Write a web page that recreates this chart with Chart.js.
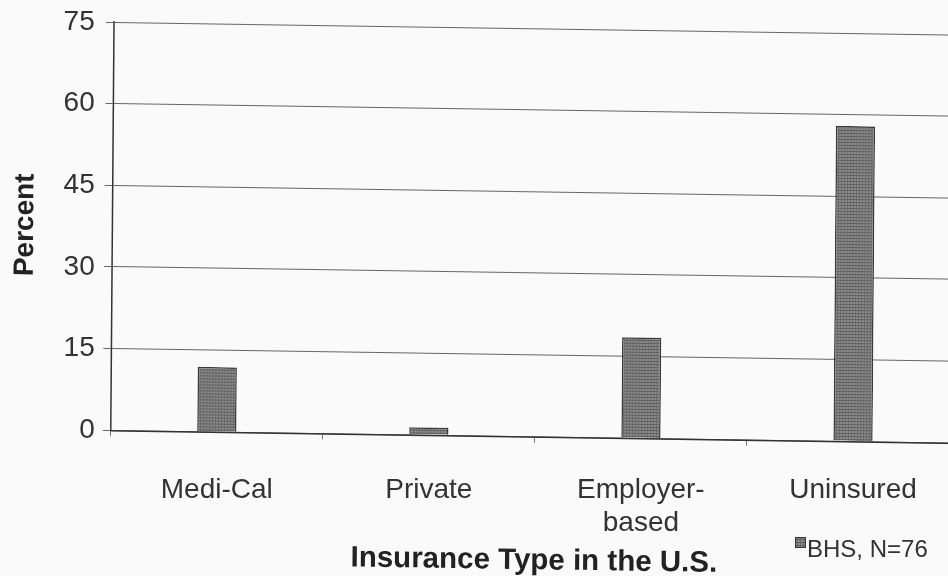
<!DOCTYPE html>
<html>
<head>
<meta charset="utf-8">
<script src="https://cdn.jsdelivr.net/npm/chart.js@4/dist/chart.umd.min.js"></script>
<style>
  html, body { margin: 0; padding: 0; background: #fafafa; overflow: hidden; width: 948px; height: 576px; }
  #wrap { position: absolute; left: 0; top: 0; width: 975px; height: 576px; }
</style>
</head>
<body>
<div id="wrap"><canvas id="c" width="975" height="576"></canvas></div>
<script>
const categories = [["Medi-Cal"], ["Private"], ["Employer-", "based"], ["Uninsured"]];
const seriesLabel = "BHS, N=76";
const seriesValues = [11.9, 1.4, 18.5, 57.9];
const yTicks = [0, 15, 30, 45, 60, 75];
const xTitle = "Insurance Type in the U.S.";
const yTitle = "Percent";

function makePattern() {
  const p = document.createElement('canvas');
  p.width = 3; p.height = 3;
  const g = p.getContext('2d');
  g.fillStyle = '#8c8c8c'; g.fillRect(0, 0, 3, 3);
  g.fillStyle = '#5e5e5e'; g.fillRect(0, 2, 3, 1);
  g.fillStyle = '#6e6e6e'; g.fillRect(2, 0, 1, 2);
  return document.getElementById('c').getContext('2d').createPattern(p, 'repeat');
}
const barFill = makePattern();

// Mimic the slight skew of the scanned page for the plot (grid, axes, bars).
const SKEW_Y = 0.0149, SKEW_X = 0.008;
const skewPlugin = {
  id: 'scanSkew',
  beforeDraw(chart) {
    const ctx = chart.ctx, a = chart.chartArea;
    ctx.save();
    ctx.transform(1, SKEW_Y, -SKEW_X, 1, SKEW_X * a.bottom, -SKEW_Y * a.left);
  },
  afterDatasetsDraw(chart) {
    chart.ctx.restore();
  }
};

const legendPlugin = {
  id: 'cornerLegend',
  afterDraw(chart) {
    const ctx = chart.ctx;
    const ds = chart.data.datasets[0];
    ctx.save();
    ctx.fillStyle = barFill;
    ctx.fillRect(795, 537, 11, 11);
    ctx.strokeStyle = '#333';
    ctx.lineWidth = 1;
    ctx.strokeRect(795.5, 537.5, 10, 10);
    ctx.fillStyle = '#333';
    ctx.font = '24px "Liberation Sans", Arial, sans-serif';
    ctx.textBaseline = 'alphabetic';
    ctx.textAlign = 'left';
    ctx.fillText(ds.label, 807, 557);
    ctx.restore();
  }
};

new Chart(document.getElementById('c'), {
  type: 'bar',
  data: {
    labels: categories,
    datasets: [{
      label: seriesLabel,
      data: seriesValues,
      backgroundColor: barFill,
      borderColor: '#3a3a3a',
      borderWidth: 1.5,
      barPercentage: 0.185,
      categoryPercentage: 1.0
    }]
  },
  options: {
    responsive: false,
    animation: false,
    layout: { padding: { left: 0, right: 16, top: 0, bottom: 0 } },
    plugins: { legend: { display: false }, tooltip: { enabled: false } },
    scales: {
      x: {
        grid: { display: true, drawOnChartArea: false, drawTicks: true, tickLength: 6, color: '#777', offset: true },
        border: { display: true, color: '#333', width: 1.5 },
        ticks: {
          z: 1, color: '#333', padding: 37, maxRotation: 0, autoSkip: false,
          font: { family: '"Liberation Sans", Arial, sans-serif', size: 28, lineHeight: 1.18 }
        },
        title: {
          display: true, text: xTitle, color: '#222',
          font: { family: '"Liberation Sans", Arial, sans-serif', size: 29.5, weight: 'bold' },
          padding: { top: -39.4, bottom: 3.6 }
        }
      },
      y: {
        min: 0, max: 75,
        afterBuildTicks(axis) { axis.ticks = yTicks.map(v => ({ value: v })); },
        grid: { color: '#666', lineWidth: 1, tickLength: 8, drawTicks: true },
        border: { display: true, color: '#333', width: 1.5 },
        ticks: {
          z: 1, color: '#333', padding: 8,
          font: { family: '"Liberation Sans", Arial, sans-serif', size: 28, lineHeight: 1.0 }
        },
        title: {
          display: true, text: yTitle, color: '#222',
          font: { family: '"Liberation Sans", Arial, sans-serif', size: 28, weight: 'bold' },
          padding: { top: 7, bottom: 15 }
        }
      }
    }
  },
  plugins: [skewPlugin, legendPlugin]
});
</script>
</body>
</html>
